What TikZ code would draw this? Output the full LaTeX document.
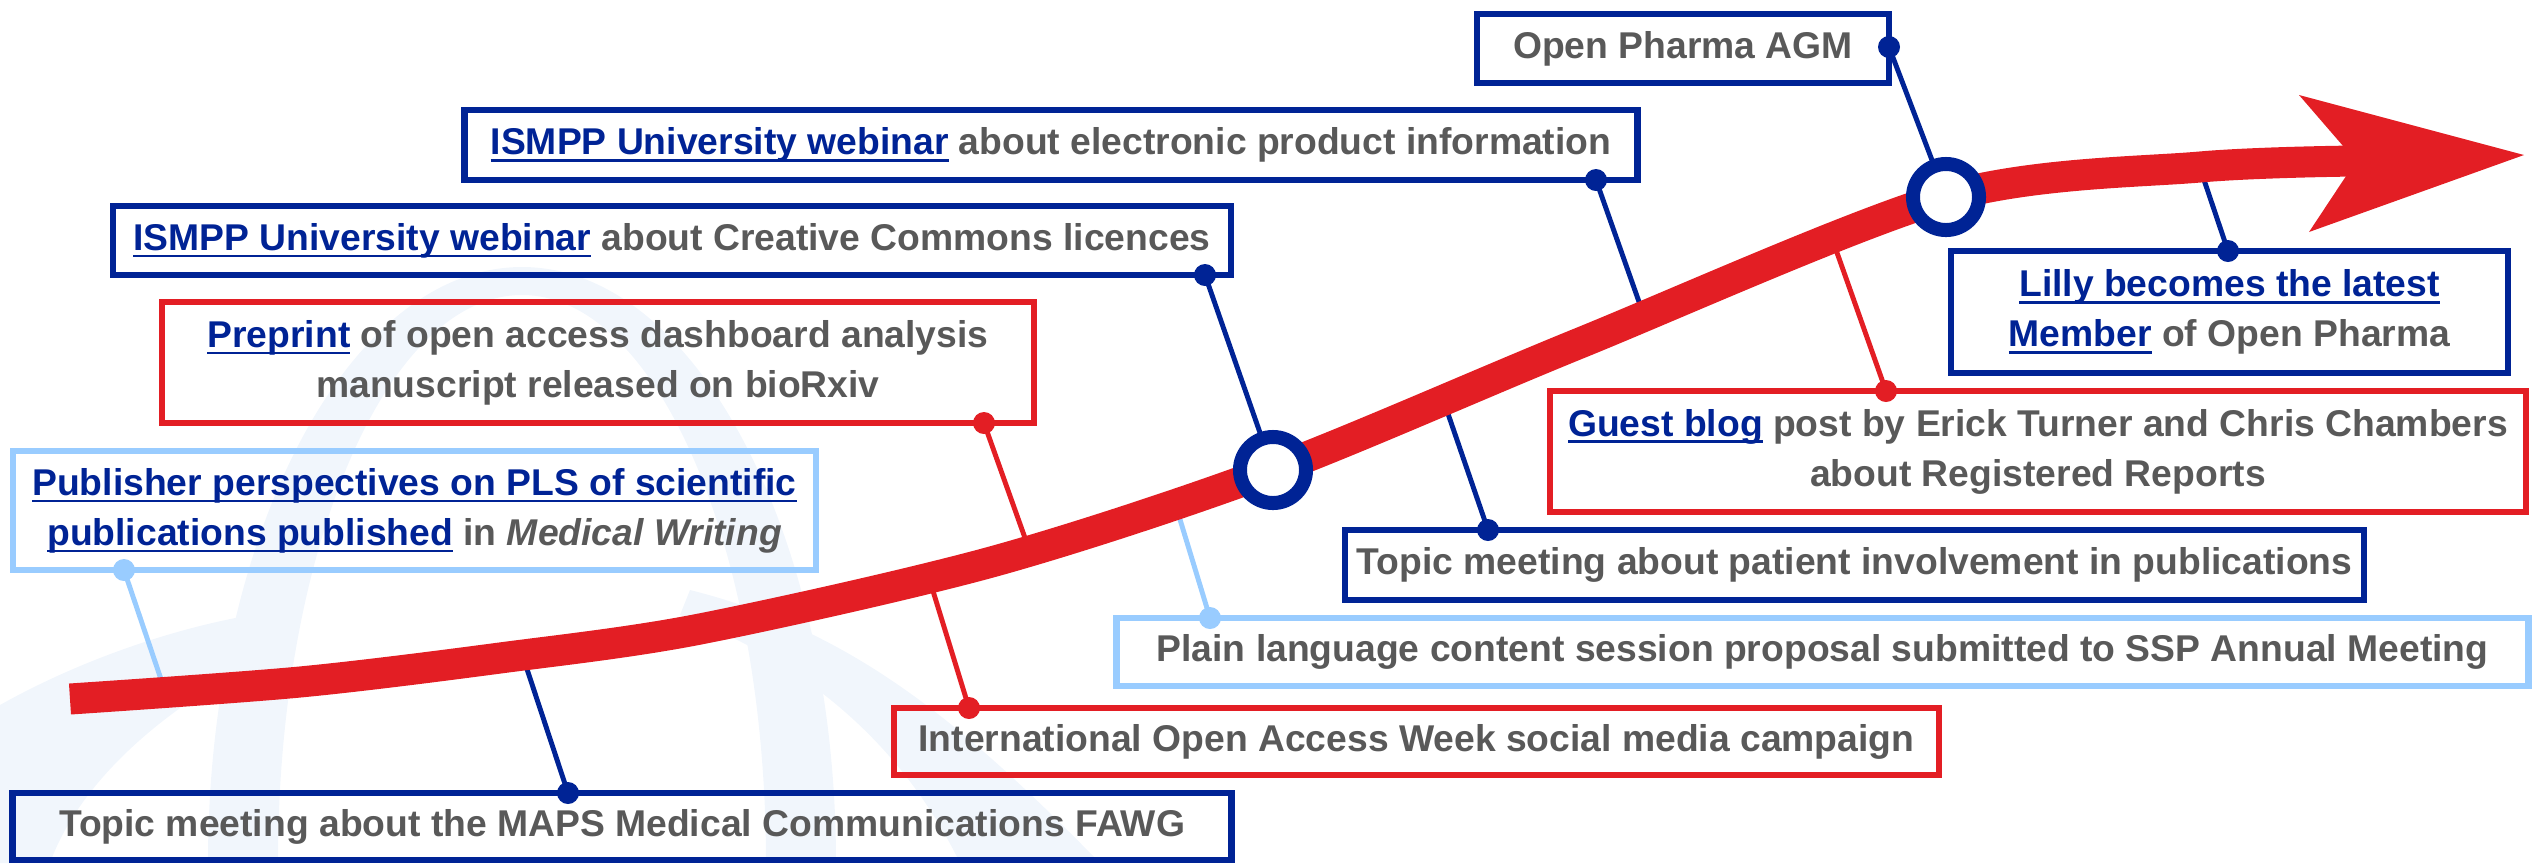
\documentclass[tikz,border=0pt]{standalone}
\usepackage{fontspec}
\setmainfont{Liberation Sans}
\definecolor{opnavy}{HTML}{002395}
\definecolor{opred}{HTML}{E31E24}
\definecolor{oplight}{HTML}{99CCFF}
\definecolor{optext}{HTML}{595959}
\definecolor{opwm}{HTML}{F1F6FC}
\newcommand\mylink[1]{\setbox0\hbox{#1}\rlap{\color{opnavy}\rule[-2pt]{\wd0}{0.75pt}}{\color{opnavy}#1}}
\tikzset{
  evbox/.style={draw=#1, line width=1.8pt, inner sep=0pt, align=center, text=optext,
    font=\fontsize{10.6}{14.2}\selectfont\bfseries},
  conn/.style={draw=#1, line width=1.4pt},
  dotc/.style={circle, fill=#1, inner sep=0pt, minimum size=0.22cm},
  ring/.style={circle, draw=opnavy, line width=0.14cm, fill=white, minimum size=0.66cm, inner sep=0pt},
  timeline/.style={draw=opred, line width=0.31cm},
}
\begin{document}
\begin{tikzpicture}[x=0.01cm,y=-0.01cm]
\useasboundingbox (0,0) rectangle (2532,863);
% faint watermark
\fill[opwm] (208,863) .. controls (208,534) and (349,267) .. (522,267)
  .. controls (695,267) and (836,534) .. (836,863) -- (766,863)
  .. controls (766,549) and (657,295) .. (522,295)
  .. controls (387,295) and (278,549) .. (278,863) -- cycle;
\fill[opwm] (0,705) .. controls (80,660) and (180,625) .. (270,612) -- (285,648)
  .. controls (170,700) and (80,780) .. (50,863) -- (0,863) -- cycle;
\fill[opwm] (690,590) .. controls (850,630) and (960,720) .. (1100,863) -- (960,863)
  .. controls (900,740) and (800,660) .. (680,615) -- cycle;

% boxes
\node[evbox=opnavy, minimum width=4.12cm, minimum height=0.69cm] (agm) at (1683,48.5) {Open Pharma AGM};
\node[evbox=opnavy, minimum width=11.72cm, minimum height=0.70cm] (epi) at (1051,145) {\mylink{ISMPP University webinar} about electronic product information};
\node[evbox=opnavy, minimum width=11.18cm, minimum height=0.69cm] (cc) at (672,240.5) {\mylink{ISMPP University webinar} about Creative Commons licences};
\node[evbox=opred, minimum width=8.72cm, minimum height=1.21cm] (pre) at (598,362.5) {\mylink{Preprint} of open access dashboard analysis\\manuscript released on bioRxiv};
\node[evbox=oplight, minimum width=8.03cm, minimum height=1.19cm] (pub) at (414.5,510.5) {\mylink{Publisher perspectives on PLS of scientific}\\\mylink{publications published} in \textit{Medical Writing}};
\node[evbox=opnavy, minimum width=12.18cm, minimum height=0.67cm] (maps) at (622,826.5) {Topic meeting about the MAPS Medical Communications FAWG};
\node[evbox=opred, minimum width=10.45cm, minimum height=0.67cm] (oaw) at (1416.5,741.5) {International Open Access Week social media campaign};
\node[evbox=oplight, minimum width=14.11cm, minimum height=0.68cm] (ssp) at (1822.5,652) {Plain language content session proposal submitted to SSP Annual Meeting};
\node[evbox=opnavy, minimum width=10.19cm, minimum height=0.70cm] (pat) at (1854.5,565) {Topic meeting about patient involvement in publications};
\node[evbox=opred, minimum width=9.76cm, minimum height=1.21cm] (blog) at (2038,451.5) {\mylink{Guest blog} post by Erick Turner and Chris Chambers\\about Registered Reports};
\node[evbox=opnavy, minimum width=5.57cm, minimum height=1.22cm] (lilly) at (2229.5,312) {\mylink{Lilly becomes the latest}\\\mylink{Member} of Open Pharma};

% dots on boxes
\node[dotc=opnavy] (dagm) at (1889,47) {};
\node[dotc=opnavy] (depi) at (1596,180) {};
\node[dotc=opnavy] (dcc) at (1205,275) {};
\node[dotc=opred] (dpre) at (984,423) {};
\node[dotc=oplight] (dpub) at (124,570) {};
\node[dotc=opnavy] (dmaps) at (568,793) {};
\node[dotc=opred] (doaw) at (969,708) {};
\node[dotc=oplight] (dssp) at (1210,618) {};
\node[dotc=opnavy] (dpat) at (1488,530) {};
\node[dotc=opred] (dblog) at (1886,391) {};
\node[dotc=opnavy] (dlilly) at (2228,251) {};

% points on the timeline
\coordinate (t0) at (70,699);
\coordinate (m1) at (1273,470);
\coordinate (m2) at (1946,197);
\coordinate (tend) at (2356,161);
\coordinate (cepi) at (1644,316);
\coordinate (cpre) at (1030,552);
\coordinate (cpub) at (165,691);
\coordinate (cmaps) at (523,657);
\coordinate (coaw) at (929,578);
\coordinate (cssp) at (1175,503);
\coordinate (cpat) at (1445,405);
\coordinate (cblog) at (1835,247);
\coordinate (clilly) at (2200,168);

% connectors (behind the timeline)
\draw[conn=opnavy] (dagm.center) -- (m2);
\draw[conn=opnavy] (depi.center) -- (cepi);
\draw[conn=opnavy] (dcc.center) -- (m1);
\draw[conn=opred] (dpre.center) -- (cpre);
\draw[conn=oplight] (dpub.center) -- (cpub);
\draw[conn=opnavy] (dmaps.center) -- (cmaps);
\draw[conn=opred] (doaw.center) -- (coaw);
\draw[conn=oplight] (dssp.center) -- (cssp);
\draw[conn=opnavy] (dpat.center) -- (cpat);
\draw[conn=opred] (dblog.center) -- (cblog);
\draw[conn=opnavy] (dlilly.center) -- (clilly);

% timeline
\draw[timeline] plot[smooth, tension=0.5] coordinates {(t0) (300,682) (500,658) (700,629) (995,561) (m1) (1580,343) (m2) (2200,167) (tend)};
\fill[opred] (2299,95) -- (2524,155) -- (2309,232) -- (tend) -- cycle;

% milestones
\node[ring] (r1) at (m1) {};
\node[ring] (r2) at (m2) {};
\end{tikzpicture}
\end{document}
